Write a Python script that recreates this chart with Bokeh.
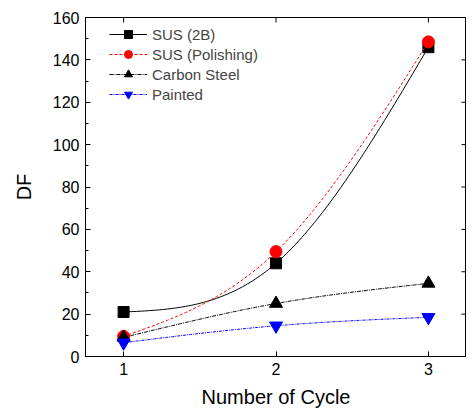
import numpy as np
from bokeh.plotting import figure
from bokeh.models import FixedTicker, Range1d, Legend, LegendItem
from bokeh.embed import file_html
from bokeh.resources import INLINE

cycles = [1, 2, 3]
sus_2b = [21, 44, 146]
sus_polishing = [9.5, 49.5, 148.5]
carbon_steel = [9, 25, 34.5]
painted = [6.5, 14.5, 18.5]
series_names = ["SUS (2B)", "SUS (Polishing)", "Carbon Steel", "Painted"]
y_ticks = [0, 20, 40, 60, 80, 100, 120, 140, 160]
y_minor = list(range(0, 161, 10))
x_lo, x_hi = 0.75, 3.25
y_lo, y_hi = 0, 160


def natural_spline(xs, ys, n=60):
    xs = np.asarray(xs, float)
    ys = np.asarray(ys, float)
    k = len(xs)
    h = np.diff(xs)
    A = np.zeros((k, k))
    b = np.zeros(k)
    A[0, 0] = 1
    A[-1, -1] = 1
    for i in range(1, k - 1):
        A[i, i - 1] = h[i - 1]
        A[i, i] = 2 * (h[i - 1] + h[i])
        A[i, i + 1] = h[i]
        b[i] = 6 * ((ys[i + 1] - ys[i]) / h[i] - (ys[i] - ys[i - 1]) / h[i - 1])
    M = np.linalg.solve(A, b)
    out_x, out_y = [], []
    for i in range(k - 1):
        t = np.linspace(xs[i], xs[i + 1], n)
        a = xs[i + 1] - t
        c = t - xs[i]
        s = (M[i] * a ** 3 / (6 * h[i]) + M[i + 1] * c ** 3 / (6 * h[i])
             + (ys[i] / h[i] - M[i] * h[i] / 6) * a
             + (ys[i + 1] / h[i] - M[i + 1] * h[i] / 6) * c)
        out_x.extend(t.tolist())
        out_y.extend(s.tolist())
    return out_x, out_y


FONT = "Liberation Sans"

p = figure(width=466, height=410, output_backend="svg", toolbar_location=None,
           x_range=Range1d(x_lo, x_hi), y_range=Range1d(y_lo, y_hi),
           min_border_left=85, min_border_right=0, min_border_top=17,
           min_border_bottom=53)
p.grid.visible = False
p.outline_line_color = "black"
p.outline_line_width = 1

p.xaxis.ticker = FixedTicker(ticks=cycles)
p.yaxis.ticker = FixedTicker(ticks=y_ticks, minor_ticks=y_minor)
for ax in (p.xaxis[0], p.yaxis[0]):
    ax.major_tick_in = 5
    ax.major_tick_out = 0
    ax.minor_tick_in = 3
    ax.minor_tick_out = 0
    ax.axis_line_color = "black"
    ax.major_tick_line_color = "black"
    ax.major_label_text_font = FONT
    ax.major_label_text_font_size = "16px"
    ax.major_label_text_color = "black"
    ax.axis_label_text_font = FONT
    ax.axis_label_text_font_style = "normal"
    ax.axis_label_text_font_size = "20px"
    ax.axis_label_text_color = "black"
p.xaxis.minor_tick_line_color = None
p.yaxis.minor_tick_line_color = "black"
p.xaxis.axis_label = "Number of Cycle"
p.yaxis.axis_label = "DF"
p.xaxis.major_label_standoff = 6
p.xaxis.axis_label_standoff = 8
p.yaxis.major_label_standoff = 6
p.yaxis.axis_label_standoff = 15

# inward ticks on top and right frame edges
p.ray(x=cycles, y=[y_hi] * len(cycles), length=5, length_units="screen",
      angle=-np.pi / 2, line_color="black", line_width=1)
p.ray(x=[x_hi] * len(y_ticks), y=y_ticks, length=5, length_units="screen",
      angle=np.pi, line_color="black", line_width=1)

styles = [
    (sus_2b, "black", "solid", "square", 11),
    (sus_polishing, "red", "3 2", "circle", 12),
    (carbon_steel, "black", "4 1 1 1", "triangle", 13),
    (painted, "blue", "3 1 1 1", "inverted_triangle", 13),
]

items = []
for name, (vals, color, dash, marker, size) in zip(series_names, styles):
    sx, sy = natural_spline(cycles, vals)
    ln = p.line(sx, sy, line_color=color, line_dash=dash, line_width=1)
    mk = p.scatter(cycles, vals, marker=marker, size=size, fill_color=color,
                   line_color=color)
    items.append(LegendItem(label=name, renderers=[ln, mk]))

legend = Legend(items=items, location=(24, 252), padding=0, margin=0,
                spacing=0, glyph_width=38, glyph_height=20, label_height=20,
                label_standoff=5, label_text_font=FONT, label_text_font_size="15px",
                border_line_color=None, background_fill_alpha=0)
p.add_layout(legend)

open("out.html", "w").write(file_html(p, INLINE))
